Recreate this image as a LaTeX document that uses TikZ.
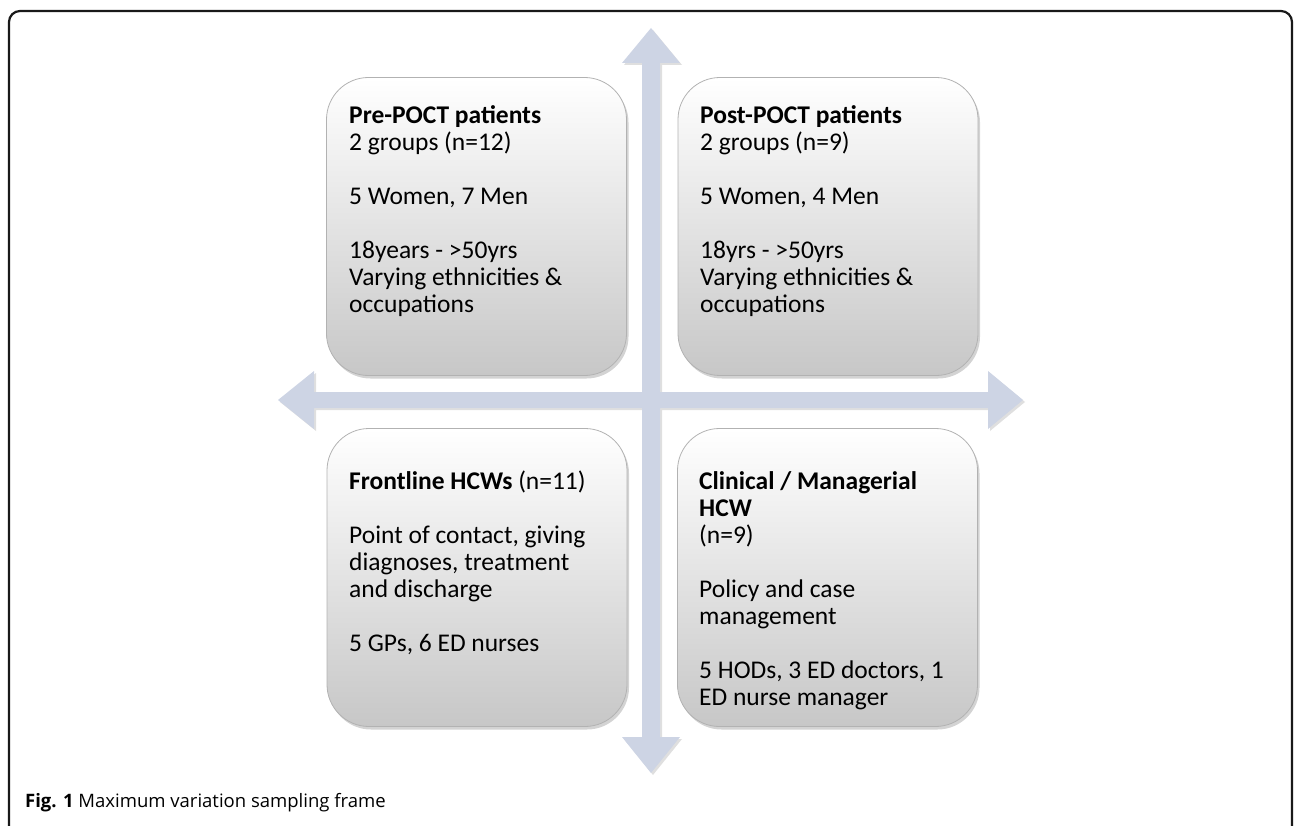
\documentclass[tikz,border=0pt]{standalone}
\usepackage{fontspec}
\setmainfont{Carlito}
\newfontfamily\capfont{Open Sans}
\usetikzlibrary{shadows}
\definecolor{arrowcol}{RGB}{205,212,228}
\newcommand{\firstln}{\rule{0pt}{20pt}}
\tikzset{
  quad/.style={draw=black!30, line width=0.8pt, rounded corners=42pt,
    top color=white, bottom color=black!22,
    minimum width=300pt, minimum height=298pt, inner sep=0pt,
    drop shadow={shadow xshift=2pt, shadow yshift=-3pt, opacity=0.35}},
  quadtext/.style={anchor=north west, align=left, inner sep=0pt,
    font=\fontsize{25.5}{27}\selectfont},
  axisshape/.style={fill=arrowcol,
    drop shadow={shadow xshift=2pt, shadow yshift=-2pt, opacity=0.25}},
  frame/.style={draw=black!90, line width=2.2pt, rounded corners=11pt},
}
\begin{document}
\begin{tikzpicture}[x=1pt,y=-1pt]
\useasboundingbox (0,0) rectangle (1295,826);
\clip (0,0) rectangle (1295,826);
% outer frame
\draw[frame] (9,850) -- (9,11) -- (1292,11) -- (1292,850);
% cross arrows
\path[axisshape] (651,28) -- (680,63) -- (660,63) -- (660,392) -- (988,392) -- (988,371)
  -- (1023,400) -- (988,429) -- (988,408) -- (660,408) -- (660,737) -- (680,737)
  -- (651,773) -- (622,737) -- (642,737) -- (642,408) -- (314,408) -- (314,429)
  -- (278,400) -- (314,371) -- (314,392) -- (642,392) -- (642,63) -- (622,63) -- cycle;
% boxes
\node[quad] (tl) at (476.5,226.5) {};
\node[quad] (tr) at (828,226.5) {};
\node[quad] (bl) at (477,577.5) {};
\node[quad] (br) at (827.5,577.5) {};
% texts
\node[quadtext] (tltext) at (349,103) {\firstln\textbf{Pre-POCT patients}\\2 groups (n=12)\\[27pt]5 Women, 7 Men\\[27pt]18years - >50yrs\\Varying ethnicities \&\\occupations};
\node[quadtext] (trtext) at (700,103) {\firstln\textbf{Post-POCT patients}\\2 groups (n=9)\\[27pt]5 Women, 4 Men\\[27pt]18yrs - >50yrs\\Varying ethnicities \&\\occupations};
\node[quadtext] (bltext) at (349,469) {\firstln\textbf{Frontline HCWs} (n=11)\\[27pt]Point of contact, giving\\diagnoses, treatment\\and discharge\\[27pt]5 GPs, 6 ED nurses};
\node[quadtext] (brtext) at (699,469) {\firstln\textbf{Clinical / Managerial}\\\textbf{HCW}\\(n=9)\\[27pt]Policy and case\\management\\[27pt]5 HODs, 3 ED doctors, 1\\ED nurse manager};
% caption
\node[anchor=base west, inner sep=0pt, font=\capfont\fontsize{18.5}{22}\selectfont] (caption) at (25,807) {\textbf{Fig. 1} Maximum variation sampling frame};
\end{tikzpicture}
\end{document}
